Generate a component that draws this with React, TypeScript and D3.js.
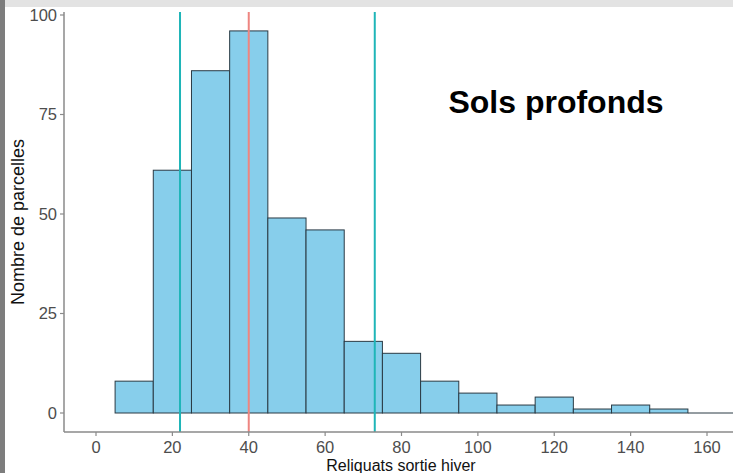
import React from "react";
import * as d3 from "d3";

const binStarts = [5, 15, 25, 35, 45, 55, 65, 75, 85, 95, 105, 115, 125, 135, 145];
const counts = [8, 61, 86, 96, 49, 46, 18, 15, 8, 5, 2, 4, 1, 2, 1];
const binWidth = 10;
const xTicks = [0, 20, 40, 60, 80, 100, 120, 140, 160];
const yTicks = [0, 25, 50, 75, 100];
const quantileLines = [22, 73];
const medianLine = [40];

const W = 733;
const H = 473;

export default function App() {
  const panelLeft = 64;
  const panelRight = 733;
  const panelTop = 12;
  const panelBottom = 432;
  const x = d3.scaleLinear().domain([0, 160]).range([96, 707]);
  const y = d3.scaleLinear().domain([0, 100]).range([413, 15]);
  const axisColor = "#8a8a8a";
  const tickText = "#4d4d4d";
  const font = "Liberation Sans, Arial, sans-serif";
  const xMaxPanel = x.invert(panelRight);

  return (
    <div style={{ position: "absolute", left: 0, top: 0 }}>
      <svg width={W} height={H} style={{ display: "block" }}>
        <rect x={0} y={0} width={W} height={H} fill="#ffffff" />
        <rect x={0} y={0} width={W} height={7} fill="#e3e3e3" />
        <rect x={0} y={0} width={5} height={H} fill="#7d7d7d" />

        {binStarts.map((s, i) => (
          <rect
            key={i}
            x={x(s)}
            y={y(counts[i])}
            width={x(s + binWidth) - x(s)}
            height={y(0) - y(counts[i])}
            fill="#87CEEB"
            stroke="#2a3a44"
            strokeWidth={1}
          />
        ))}
        <line x1={x(binStarts[binStarts.length - 1] + binWidth)} x2={x(xMaxPanel)} y1={y(0)} y2={y(0)} stroke="#2a3a44" strokeWidth={1} />

        {quantileLines.map((v, i) => (
          <line key={"q" + i} x1={x(v)} x2={x(v)} y1={panelTop} y2={panelBottom} stroke="#1fb5b8" strokeWidth={2} />
        ))}
        {medianLine.map((v, i) => (
          <line key={"m" + i} x1={x(v)} x2={x(v)} y1={panelTop} y2={panelBottom} stroke="#ee8580" strokeWidth={2} />
        ))}

        <line x1={panelLeft} x2={panelLeft} y1={panelTop} y2={panelBottom} stroke={axisColor} strokeWidth={1.5} />
        <line x1={panelLeft} x2={panelRight} y1={panelBottom} y2={panelBottom} stroke={axisColor} strokeWidth={1.5} />

        {yTicks.map((t) => (
          <g key={"y" + t}>
            <line x1={panelLeft - 4} x2={panelLeft} y1={y(t)} y2={y(t)} stroke={axisColor} strokeWidth={1.2} />
            <text x={panelLeft - 7} y={y(t) + 5.5} textAnchor="end" fontSize={16.5} fill={tickText} fontFamily={font}>
              {t}
            </text>
          </g>
        ))}
        {xTicks.map((t) => (
          <g key={"x" + t}>
            <line x1={x(t)} x2={x(t)} y1={panelBottom} y2={panelBottom + 4} stroke={axisColor} strokeWidth={1.2} />
            <text x={x(t)} y={453} textAnchor="middle" fontSize={16.5} fill={tickText} fontFamily={font}>
              {t}
            </text>
          </g>
        ))}

        <text x={401} y={471} textAnchor="middle" fontSize={16} fill="#111" fontFamily={font}>
          Reliquats sortie hiver
        </text>
        <text
          transform={`translate(24, ${(panelTop + panelBottom) / 2}) rotate(-90)`}
          textAnchor="middle"
          fontSize={18}
          fill="#111"
          fontFamily={font}
        >
          Nombre de parcelles
        </text>

        <text x={556} y={113} textAnchor="middle" fontSize={32} fontWeight="bold" fill="#000" fontFamily={font}>
          Sols profonds
        </text>
      </svg>
    </div>
  );
}
